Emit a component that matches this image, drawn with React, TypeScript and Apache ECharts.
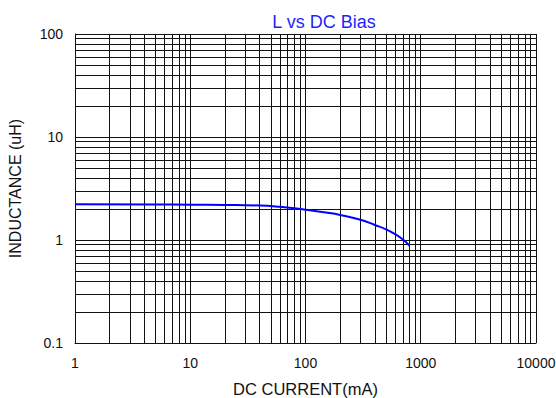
import React, { useEffect, useRef } from "react";
import * as echarts from "echarts";

const currentMA = [1, 5, 10, 20, 40, 60, 80, 100, 150, 200, 300, 400, 500, 600, 700, 800];
const inductanceUH = [2.22, 2.21, 2.2, 2.19, 2.16, 2.1, 2.03, 1.97, 1.85, 1.75, 1.57, 1.4, 1.27, 1.14, 1.01, 0.88];

const xMinorGrid = [2, 3, 4, 5, 6, 7, 8, 9, 20, 30, 40, 50, 60, 70, 80, 90, 200, 300, 400, 500, 600, 700, 800, 900, 2000, 3000, 4000, 5000, 6000, 7000, 8000, 9000];
const yMinorGrid = [0.2, 0.3, 0.4, 0.5, 0.6, 0.7, 0.8, 0.9, 2, 3, 4, 5, 6, 7, 8, 9, 20, 30, 40, 50, 60, 70, 80, 90];

const FONT = "'Liberation Sans', Arial, sans-serif";

export default function App() {
  const ref = useRef<HTMLDivElement>(null);
  useEffect(() => {
    if (!ref.current) return;
    const chart = echarts.init(ref.current, undefined, { renderer: "svg" });
    const gridLine = { color: "#111", width: 1, type: "solid" as const };
    chart.setOption({
      animation: false,
      backgroundColor: "#fff",
      title: {
        text: "L vs DC Bias",
        left: 319,
        textAlign: "center",
        top: 8,
        textStyle: { color: "#1f1fff", fontSize: 18, fontWeight: "normal", fontFamily: FONT },
      },
      grid: { left: 75, right: 20, top: 34, bottom: 55, containLabel: false, outerBoundsMode: "none" },
      xAxis: {
        type: "log",
        logBase: 10,
        min: 1,
        max: 10000,
        name: "DC CURRENT(mA)",
        nameLocation: "middle",
        nameGap: 37,
        nameTextStyle: { color: "#111", fontSize: 16.5, fontFamily: FONT },
        axisLine: { show: true, lineStyle: { color: "#111", width: 1 } },
        axisTick: { show: false },
        axisLabel: {
          color: "#111",
          fontSize: 14,
          fontFamily: FONT,
          margin: 13,
          formatter: (v: number) => String(Math.round(v)),
        },
        splitLine: { show: true, lineStyle: gridLine },
      },
      yAxis: {
        type: "log",
        logBase: 10,
        min: 0.1,
        max: 100,
        name: "INDUCTANCE (uH)",
        nameLocation: "middle",
        nameGap: 52,
        nameTextStyle: { color: "#111", fontSize: 16, fontFamily: FONT },
        axisLine: { show: true, lineStyle: { color: "#111", width: 1 } },
        axisTick: { show: false },
        axisLabel: {
          color: "#111",
          fontSize: 14,
          fontFamily: FONT,
          margin: 12,
          formatter: (v: number) => String(Math.round(v * 10) / 10),
        },
        splitLine: { show: true, lineStyle: gridLine },
      },
      series: [
        {
          type: "line",
          data: currentMA.map((x, i) => [x, inductanceUH[i]]),
          showSymbol: false,
          smooth: true,
          lineStyle: { color: "#0000ff", width: 2 },
          z: 5,
          markLine: {
            silent: true,
            symbol: "none",
            label: { show: false },
            lineStyle: gridLine,
            data: [
              ...xMinorGrid.map((x) => ({ xAxis: x })),
              ...yMinorGrid.map((y) => ({ yAxis: y })),
            ],
            z: 1,
          },
        },
      ],
    });
    return () => chart.dispose();
  }, []);
  return <div ref={ref} style={{ width: 556, height: 398, position: "absolute", left: 0, top: 0 }} />;
}
